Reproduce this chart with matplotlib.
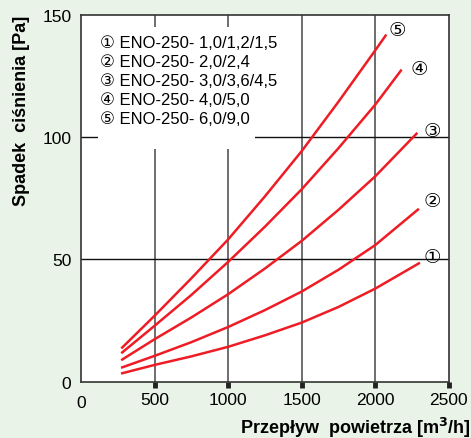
import matplotlib.pyplot as plt
from matplotlib.patches import Rectangle

# Odczytane wartości krzywych (przepływ [m3/h], spadek ciśnienia [Pa])
x1 = [280, 500, 750, 1000, 1250, 1500, 1750, 2000, 2296]
y1 = [3.5, 6.9, 10.4, 14.3, 19.0, 24.2, 30.6, 38.1, 48.4]

x2 = [280, 500, 750, 1000, 1250, 1500, 1750, 2000, 2290]
y2 = [5.9, 10.6, 16.2, 22.4, 29.3, 36.9, 45.8, 55.9, 70.4]

x3 = [280, 500, 750, 1000, 1250, 1500, 1750, 2000, 2280]
y3 = [9.1, 17.4, 26.3, 35.8, 46.3, 57.6, 70.3, 84.0, 101.4]

x4 = [280, 500, 750, 1000, 1250, 1500, 1750, 2000, 2174]
y4 = [12.0, 22.9, 35.5, 49.0, 63.4, 78.7, 95.5, 113.3, 127.2]

x5 = [280, 500, 750, 1000, 1250, 1500, 1750, 2000, 2070]
y5 = [14.0, 27.0, 42.3, 58.2, 75.8, 94.3, 114.5, 135.5, 141.5]

curve_x = [x1, x2, x3, x4, x5]
curve_y = [y1, y2, y3, y4, y5]

marks = ['①', '②', '③', '④', '⑤']
mark_x = [2390, 2390, 2390, 2296, 2147]
mark_y = [51.2, 74.0, 102.8, 128.0, 144.0]

legend_labels = [
    '① ENO-250- 1,0/1,2/1,5',
    '② ENO-250- 2,0/2,4',
    '③ ENO-250- 3,0/3,6/4,5',
    '④ ENO-250- 4,0/5,0',
    '⑤ ENO-250- 6,0/9,0',
]

xticks = [500, 1000, 1500, 2000, 2500]
yticks = [0, 50, 100, 150]

bg = '#e9f3e7'
red = '#ee1c25'
fonts = ['Liberation Sans', 'DejaVu Sans', 'Noto Sans CJK SC']

plt.rcParams['font.family'] = fonts

fig = plt.figure(figsize=(4.71, 4.39), dpi=100, facecolor=bg)
ax = fig.add_axes([0.172, 0.128, 0.781, 0.836])
ax.set_xlim(0, 2500)
ax.set_ylim(0, 150)
ax.set_facecolor('white')

# Siatka
for xv in [500, 1000, 1500, 2000]:
    ax.axvline(xv, color='#555555', lw=1.2, zorder=1)
for yv in [50, 100]:
    ax.axhline(yv, color='#111111', lw=1.0, zorder=1)

# Białe tło pod legendą
ax.add_patch(Rectangle((115, 95.3), 1067, 49.7, facecolor='white',
                       edgecolor='none', zorder=2))

for xs, ys in zip(curve_x, curve_y):
    ax.plot(xs, ys, color=red, lw=1.8, zorder=3)

for m, mx, my in zip(marks, mark_x, mark_y):
    ax.text(mx, my, m, fontsize=14, ha='center', va='center', zorder=4,
            family=['DejaVu Sans'])

for i, lab in enumerate(legend_labels):
    ax.text(128, 138.5 - i * 7.75, lab, fontsize=12, ha='left',
            va='center', zorder=4)

for s in ax.spines.values():
    s.set_color('#333333')
    s.set_linewidth(1.2)

ax.set_xticks(xticks)
ax.set_yticks(yticks)
ax.tick_params(axis='x', direction='out', length=4, width=3.5, color='#222222',
               labelsize=12.5, pad=3)
ax.tick_params(axis='y', length=0, labelsize=12.5, pad=7)
ax.text(0, -8.3, '0', fontsize=12.5, ha='center', va='center')

ax.set_ylabel('Spadek  ciśnienia [Pa]', fontsize=13, fontweight='bold')
ax.yaxis.set_label_coords(-0.138, 0.74)
fig.text(0.998, 0.025, 'Przepływ  powietrza [m$^\\mathbf{3}$/h]', fontsize=13,
         fontweight='bold', ha='right', va='center')

fig.savefig('out.png', dpi=100, facecolor=bg)
